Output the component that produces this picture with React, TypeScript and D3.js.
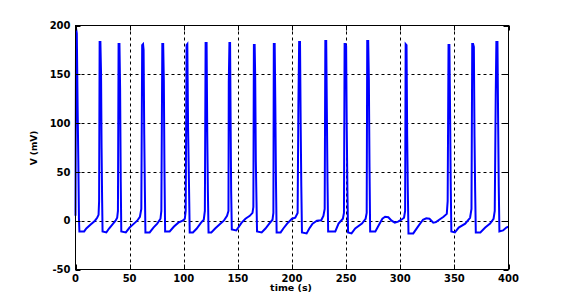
import { scaleLinear, line } from "d3";

// axis ticks
const xTicks = [0, 50, 100, 150, 200, 250, 300, 350, 400];
const yTicks = [-50, 0, 50, 100, 150, 200];

// membrane potential trace: [time (s), V (mV)]
const trace: [number, number][] = [
  [0, 5], [0.5, 197], [1.2, 192], [2.0, 113], [2.6, 62], [3.2, 2], [3.6, -11],
  [8, -11], [10, -8], [14, -4], [18, 0], [20, 3], [21.3, 6], [21.8, 20],
  [22.3, 183], [23.0, 183], [23.6, 151], [24.1, 74], [24.6, 21], [25.0, -11],
  [28.5, -12], [31, -8], [34, -4], [37, 0], [38.5, 3], [39.2, 10],
  [39.8, 181], [40.6, 181], [41.2, 136], [41.8, 40], [42.3, -11],
  [46.5, -12], [50, -7], [54, -3], [57, 0], [59.5, 4], [60.8, 12],
  [61.6, 180], [62.4, 181], [62.9, 175], [63.5, 88], [64.1, 30], [64.6, -12],
  [68.5, -12], [72, -7], [75.5, -3], [78.5, 2], [79.3, 10],
  [80.2, 181], [81, 181], [81.6, 144], [82.2, 50], [82.8, -11],
  [87, -11], [91, -6], [95, -2], [99, 0], [101, 2], [101.8, 10],
  [102.6, 180], [103.3, 181], [104, 95], [104.8, 40], [105.5, -12],
  [108.5, -12], [112, -8], [116, -2], [118.5, 1], [119.5, 10],
  [120.2, 182], [121.1, 182], [121.7, 91], [122.3, 30], [122.9, -12],
  [125.5, -12], [129, -8], [133, -4], [137, 0], [140, 5], [141.3, 10],
  [141.6, 142], [142.2, 182], [142.8, 182], [143.3, 100], [143.8, 30], [144.4, -9],
  [148.5, -10], [153.5, -2], [157, 2], [161, 5], [163.5, 8], [164.3, 14],
  [164.8, 180], [165.5, 180], [166, 148], [166.6, 60], [167.2, 20], [167.7, -11],
  [172, -12], [175.5, -8], [179, -3], [182, 1], [182.8, 8],
  [183.2, 181], [184, 181], [184.6, 118], [185.2, 40], [185.8, -12],
  [189.5, -12], [192, -8], [195.5, -3], [200, 2], [203, 3], [205.2, 8],
  [205.9, 118], [206.6, 183], [207.4, 183], [208.0, 101], [208.6, 35], [209.2, -12],
  [213.5, -13], [216, -8], [219, -3], [223, 0], [227, 0.5], [229, 5], [230.2, 12],
  [230.8, 184], [231.6, 184], [232.2, 112], [232.8, 40], [233.4, -11],
  [240, -11], [243, -3], [247, 2], [248, 8],
  [248.6, 181], [249.4, 181], [250, 179], [250.6, 92], [251.2, 30], [251.8, -12],
  [255, -13], [258.4, -8], [264.6, -3], [268, 2], [269, 8],
  [269.5, 184], [270.4, 184], [271, 145], [271.6, 55], [272.2, -11],
  [277, -11], [280, -5], [283.5, 2], [286, 4], [289, 3.5], [292, 0], [295, -2],
  [298, -1], [301, 1], [303.5, 3], [304.5, 10],
  [305.0, 181], [305.8, 180], [306.4, 87], [307, 30], [307.6, -13],
  [312, -13], [317, -5], [321, 1], [324, 2.5], [327, 2], [330.5, -2], [333, -1.5],
  [336, 1], [340, 4], [343, 7], [343.8, 20],
  [344.6, 180], [345.4, 180], [346, 116], [346.6, 40], [347.2, -11],
  [350.5, -12], [354, -7], [360, -3], [364.5, 3], [365.8, 12],
  [366.5, 181], [367.3, 181], [368, 178], [368.6, 86], [369.2, 30], [369.8, -12],
  [374, -12], [378.5, -7], [383, -3], [386.2, 2], [387.3, 10],
  [388.2, 128], [388.8, 183], [389.8, 183], [390.4, 105], [391, 35], [391.6, -11],
  [395, -10], [398, -7], [400, -6],
];

const W = 564;
const H = 305;
const font = "'DejaVu Sans', sans-serif";

export default function App() {
  const x = scaleLinear().domain([0, 400]).range([75.5, 508.5]);
  const y = scaleLinear().domain([-50, 200]).range([269.5, 25.5]);
  const [x0, x1] = x.range();
  const [y0, y1] = y.range();
  const tick = 5;

  const path = line<[number, number]>()
    .x((d) => x(d[0]))
    .y((d) => y(d[1]))(trace) || "";

  return (
    <svg
      width={W}
      height={H}
      style={{ position: "absolute", left: 0, top: 0, background: "#fff" }}
    >
      {/* grid */}
      <g stroke="#000" strokeWidth={1} strokeDasharray="3,3">
        {xTicks.slice(1, -1).map((t) => (
          <line key={"gx" + t} x1={Math.round(x(t)) + 0.5} x2={Math.round(x(t)) + 0.5} y1={y1} y2={y0} />
        ))}
        {yTicks.slice(1, -1).map((t) => (
          <line key={"gy" + t} x1={x0} x2={x1} y1={Math.round(y(t)) + 0.5} y2={Math.round(y(t)) + 0.5} />
        ))}
      </g>

      {/* trace */}
      <path d={path} fill="none" stroke="#0000ff" strokeWidth={2} strokeLinejoin="miter" />

      {/* box and ticks */}
      <rect x={x0} y={y1} width={x1 - x0} height={y0 - y1} fill="none" stroke="#000" strokeWidth={1} />
      <g stroke="#000" strokeWidth={1}>
        {xTicks.map((t) => {
          const px = Math.round(x(t)) + 0.5;
          return (
            <g key={"tx" + t}>
              <line x1={px} x2={px} y1={y0} y2={y0 - tick} />
              <line x1={px} x2={px} y1={y1} y2={y1 + tick} />
            </g>
          );
        })}
        {yTicks.map((t) => {
          const py = Math.round(y(t)) + 0.5;
          return (
            <g key={"ty" + t}>
              <line x1={x0} x2={x0 + tick} y1={py} y2={py} />
              <line x1={x1} x2={x1 - tick} y1={py} y2={py} />
            </g>
          );
        })}
      </g>

      {/* tick labels */}
      <g fontFamily={font} fontWeight="bold" fontSize={10} fill="#000">
        {xTicks.map((t) => (
          <text key={"lx" + t} x={x(t)} y={y0 + 12} textAnchor="middle">
            {t}
          </text>
        ))}
        {yTicks.map((t) => (
          <text key={"ly" + t} x={x0 - 5} y={y(t) + 3.6} textAnchor="end">
            {t}
          </text>
        ))}
      </g>

      {/* axis labels */}
      <text
        x={(x0 + x1) / 2 - 1}
        y={291}
        textAnchor="middle"
        fontFamily={font}
        fontWeight="bold"
        fontSize={9.5}
      >
        time (s)
      </text>
      <text
        transform={`translate(37,148) rotate(-90)`}
        textAnchor="middle"
        fontFamily={font}
        fontWeight="bold"
        fontSize={9}
      >
        V (mV)
      </text>
    </svg>
  );
}
